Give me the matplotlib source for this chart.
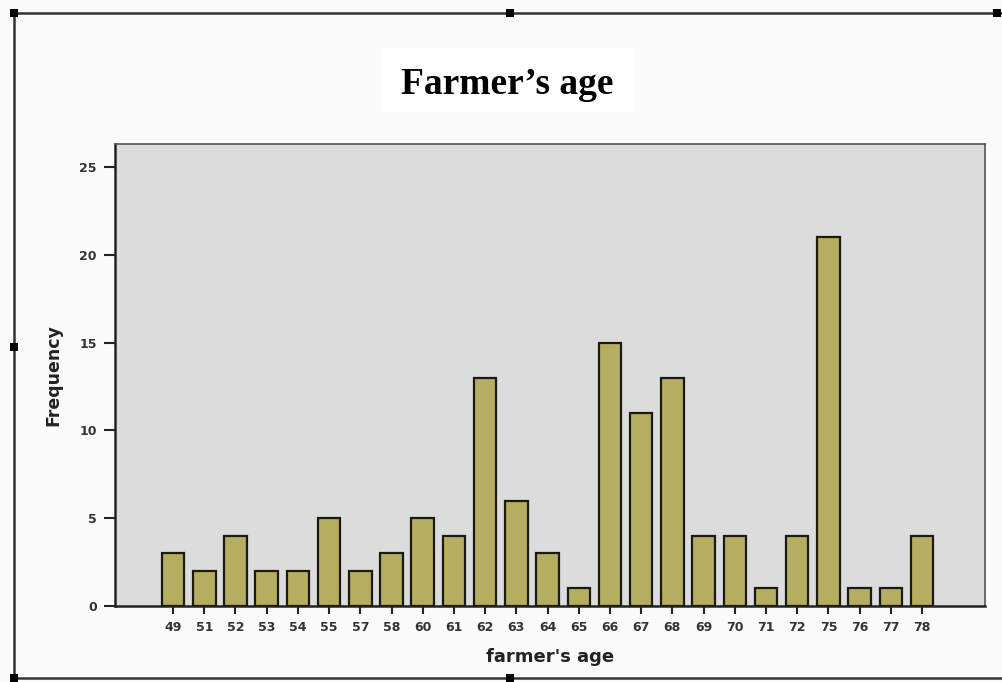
import numpy as np
import matplotlib.pyplot as plt
from matplotlib.patches import Rectangle
from matplotlib.lines import Line2D

# Farmer's age frequency table
ages = ["49", "51", "52", "53", "54", "55", "57", "58", "60", "61", "62", "63", "64",
        "65", "66", "67", "68", "69", "70", "71", "72", "75", "76", "77", "78"]
counts = [3, 2, 4, 2, 2, 5, 2, 3, 5, 4, 13, 6, 3,
          1, 15, 11, 13, 4, 4, 1, 4, 21, 1, 1, 4]
y_ticks = [0, 5, 10, 15, 20, 25]

fig = plt.figure(figsize=(10.03, 6.82), dpi=100)
fig.patch.set_facecolor("#fbfbfb")

ax = fig.add_axes([0.1147, 0.1114, 0.8674, 0.6774])
ax.set_facecolor("#dcdcdc")

x = np.arange(len(ages))
ax.bar(x, counts, width=0.72, color="#b5ad5f", edgecolor="#1a1a10", linewidth=1.6, zorder=3)

ax.set_xlim(-1.86, len(ages) - 1 + 2.02)
ax.set_ylim(0, 26.3)
ax.set_xticks(x)
ax.set_xticklabels(ages)
ax.set_yticks(y_ticks)
ax.tick_params(axis="x", direction="out", length=6, width=1.5, pad=5,
               labelsize=9, labelcolor="#333333", color="#222222")
ax.tick_params(axis="y", direction="out", length=8, width=1.5, pad=5,
               labelsize=9, labelcolor="#333333", color="#222222")
for lab in ax.get_xticklabels() + ax.get_yticklabels():
    lab.set_fontweight("bold")

for side in ["left", "bottom"]:
    ax.spines[side].set_color("#222222")
    ax.spines[side].set_linewidth(1.8)
for side in ["top", "right"]:
    ax.spines[side].set_color("#555555")
    ax.spines[side].set_linewidth(1.2)

ax.set_ylabel("Frequency", fontsize=12.5, fontweight="bold", color="#222222", labelpad=12)
ax.set_xlabel("farmer's age", fontsize=13, fontweight="bold", color="#222222", labelpad=10)

# title in its own white box
fig.patches.append(Rectangle((381 / 1003, 1 - 112 / 682), 252 / 1003, 64 / 682,
                             transform=fig.transFigure, facecolor="white",
                             edgecolor="none", zorder=0))
fig.text(507 / 1003, 1 - 84 / 682, "Farmer\u2019s age", ha="center", va="center",
         fontsize=27, fontweight="bold", family="Liberation Serif", color="black")

# outer frame with selection handles
W, H = 1003, 682
frame = [((14, 1003), (13, 13)), ((14, 1003), (678, 678)), ((14, 14), (13, 678))]
for xs, ys in frame:
    fig.lines.append(Line2D([v / W for v in xs], [1 - v / H for v in ys],
                            transform=fig.transFigure, color="#333333", linewidth=1.8))
handles = [(14, 13), (510, 13), (997, 13), (14, 347), (14, 678), (510, 678)]
for hx, hy in handles:
    fig.patches.append(Rectangle(((hx - 4) / W, 1 - (hy + 4) / H), 8 / W, 8 / H,
                                 transform=fig.transFigure, facecolor="black",
                                 edgecolor="none", zorder=5))

fig.savefig("out.png", dpi=100, facecolor=fig.get_facecolor())
